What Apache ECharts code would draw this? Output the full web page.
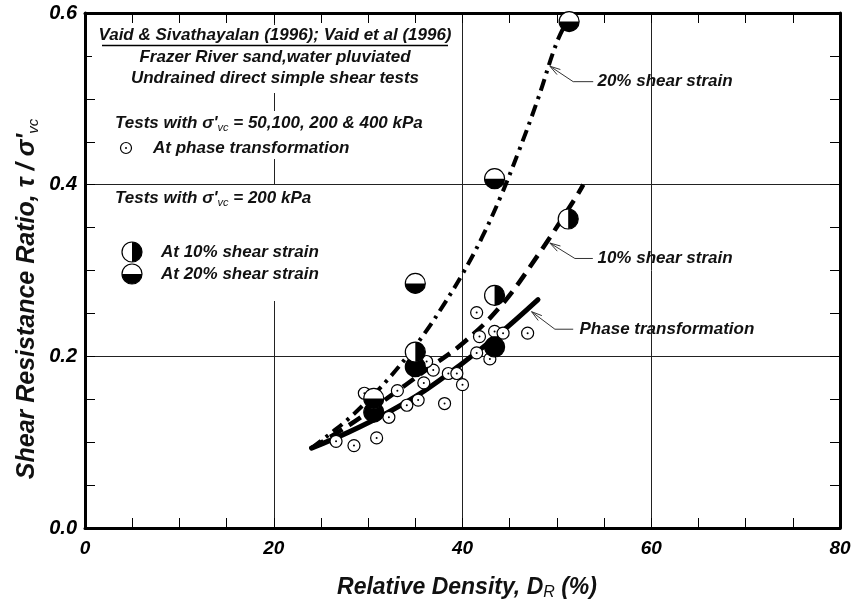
<!DOCTYPE html>
<html><head><meta charset="utf-8">
<script src="https://cdn.jsdelivr.net/npm/echarts@6/dist/echarts.min.js"></script>
<style>html,body{margin:0;padding:0;background:#fff}#c{width:854px;height:604px}</style>
</head><body><div id="c"></div>
<script>
// ---------- data ----------
const xTickLabels = ['0', '20', '40', '60', '80'];
const yTickLabels = ['0.0', '0.2', '0.4', '0.6'];

// Phase transformation, sigma'vc = 50,100,200 & 400 kPa  [DR %, tau/sigma'vc]
const phasePts = [
  [26.6, 0.101], [28.5, 0.096], [30.9, 0.105], [29.6, 0.157], [32.2, 0.129],
  [33.1, 0.160], [34.1, 0.143], [35.3, 0.149], [35.9, 0.169], [36.9, 0.184],
  [36.2, 0.194], [38.1, 0.145], [38.5, 0.180], [39.4, 0.180], [40.0, 0.167],
  [41.5, 0.204], [42.9, 0.197], [41.8, 0.223], [41.5, 0.251], [43.4, 0.229],
  [44.3, 0.227], [46.9, 0.227]
];
// sigma'vc = 200 kPa
const strain10Pts = [[35.0, 0.205], [43.4, 0.271], [51.2, 0.360]];
const strain20Pts = [[30.6, 0.151], [35.0, 0.285], [43.4, 0.407], [51.3, 0.590]];
const filledPts = [[30.6, 0.135], [35.0, 0.188], [43.4, 0.211]];

// fitted trend curves
const curvePhase = [[24, 0.093], [28, 0.112], [32, 0.134], [36, 0.160], [40, 0.192], [44, 0.227], [48, 0.266]];
const curve10 = [[24, 0.093], [28, 0.120], [32, 0.151], [36, 0.183], [40, 0.215], [44, 0.258], [48, 0.318], [52, 0.385], [52.8, 0.400]];
const curve20 = [[24, 0.093], [26, 0.110], [28, 0.128], [30, 0.149], [32, 0.172], [34, 0.198], [36, 0.227],
  [38, 0.260], [40, 0.296], [42, 0.337], [44, 0.385], [46, 0.440], [48, 0.500], [50, 0.566], [51.3, 0.595]];

// curve labels with leader lines (data coordinates)
const annotationText = ['20% shear strain', '10% shear strain', 'Phase transformation'];
const annotationPath = [
  [[49.26, 0.538], [51.73, 0.520], [53.85, 0.520]],
  [[49.26, 0.332], [51.91, 0.314], [53.81, 0.314]],
  [[47.32, 0.252], [49.79, 0.2316], [51.73, 0.2316]]
];
const annotationAnchor = [[54.3, 0.520], [54.3, 0.314], [52.4, 0.2316]];

// ---------- chart ----------
const FONT = '"Liberation Sans", Arial, Helvetica, sans-serif';
const chart = echarts.init(document.getElementById('c'), null, {renderer: 'canvas'});

function axisCommon(extra) {
  return Object.assign({
    axisLine: {show: true, onZero: false, lineStyle: {color: '#000', width: 3}},
    axisTick: {show: true, inside: true, length: 10, lineStyle: {color: '#000', width: 1}},
    minorTick: {show: true, splitNumber: 4, length: 10, lineStyle: {color: '#000', width: 1}},
    splitLine: {show: false}
  }, extra);
}
const labelStyle = {color: '#000', fontFamily: FONT, fontWeight: 'bold', fontStyle: 'italic'};

function markerShapes(kind, c, r, z) {
  const ch = [{type: 'circle', shape: {cx: c[0], cy: c[1], r: r}, style: {fill: '#fff', stroke: '#000', lineWidth: 1.2}}];
  if (kind === 'p10') {
    ch.push({type: 'sector', shape: {cx: c[0], cy: c[1], r0: 0, r: r, startAngle: -Math.PI / 2, endAngle: Math.PI / 2, clockwise: true}, style: {fill: '#000'}});
  } else if (kind === 'p20') {
    ch.push({type: 'sector', shape: {cx: c[0], cy: c[1], r0: 0, r: r, startAngle: 0, endAngle: Math.PI, clockwise: true}, style: {fill: '#000'}});
  } else if (kind === 'full') {
    ch[0].style.fill = '#000';
  } else if (kind === 'pt') {
    ch.push({type: 'circle', shape: {cx: c[0], cy: c[1], r: 1}, style: {fill: '#000'}});
  }
  if (z !== undefined) ch.forEach(function (e) { e.z = z; });
  return ch;
}
function markerSeries(name, pts, kind, r, z) {
  return {
    name: name, type: 'custom', coordinateSystem: 'cartesian2d', z: z,
    data: pts,
    renderItem: function (params, api) {
      const c = api.coord([api.value(0), api.value(1)]);
      return {type: 'group', children: markerShapes(kind, c, r)};
    }
  };
}

const txt = {fontFamily: FONT, fontWeight: 'bold', fontStyle: 'italic', fontSize: 17, fill: '#111'};
function richText(x, y, text, align) {
  return {
    type: 'text', x: x, y: y, z: 20,
    style: {
      text: text, align: align || 'left', verticalAlign: 'middle',
      textAlign: align || 'left', textVerticalAlign: 'middle',
      rich: {
        a: Object.assign({lineHeight: 20}, txt),
        s: {fontFamily: FONT, fontWeight: 'normal', fontStyle: 'italic', fontSize: 11, fill: '#111', lineHeight: 8, verticalAlign: 'bottom'}
      }
    }
  };
}
function whiteRect(x, y, w, h) {
  return {type: 'rect', z: 15, shape: {x: x, y: y, width: w, height: h}, style: {fill: '#fff'}};
}
function legendSym(kind, cx, cy, r) {
  return {type: 'group', z: 20, children: markerShapes(kind, [cx, cy], r, 20)};
}

const option = {
  animation: false,
  backgroundColor: '#fff',
  grid: {left: 85, right: 14, top: 13, bottom: 76, containLabel: false},
  xAxis: [
    axisCommon({
      type: 'value', min: 0, max: 80, interval: 20, position: 'bottom',
      axisLabel: Object.assign({margin: 11, fontSize: 19, formatter: function (v) { return xTickLabels[Math.round(v / 20)]; }}, labelStyle),
      splitLine: {show: true, lineStyle: {color: '#222', width: 1}}
    }),
    axisCommon({type: 'value', min: 0, max: 80, interval: 20, position: 'top', axisLabel: {show: false}})
  ],
  yAxis: [
    axisCommon({
      type: 'value', min: 0, max: 0.6, interval: 0.2, position: 'left',
      axisLabel: Object.assign({margin: 8, fontSize: 20, formatter: function (v) { return yTickLabels[Math.round(v / 0.2)]; }}, labelStyle),
      splitLine: {show: true, lineStyle: {color: '#222', width: 1}}
    }),
    axisCommon({type: 'value', min: 0, max: 0.6, interval: 0.2, position: 'right', axisLabel: {show: false}})
  ],
  series: [
    {name: 'Phase transformation', type: 'line', data: curvePhase, smooth: 0.4, showSymbol: false, z: 2,
      lineStyle: {color: '#000', width: 5, cap: 'round'}},
    {name: '10% shear strain', type: 'line', data: curve10, smooth: 0.4, showSymbol: false, z: 2,
      lineStyle: {color: '#000', width: 4.5, type: [14, 8]}},
    {name: '20% shear strain', type: 'line', data: curve20, smooth: 0.4, showSymbol: false, z: 2,
      lineStyle: {color: '#000', width: 4, type: [12, 6, 3, 6]}},
    markerSeries('At phase transformation', phasePts, 'pt', 6, 3),
    markerSeries('Filled', filledPts, 'full', 10, 4),
    markerSeries('At 20% shear strain', strain20Pts, 'p20', 10, 5),
    markerSeries('At 10% shear strain', strain10Pts, 'p10', 10, 5),
    {
      name: 'labels', type: 'custom', coordinateSystem: 'cartesian2d', z: 6,
      data: annotationAnchor,
      renderItem: function (params, api) {
        const i = params.dataIndex;
        const pts = annotationPath[i].map(function (p) { return api.coord(p); });
        const tip = pts[0], nxt = pts[1];
        const dx = nxt[0] - tip[0], dy = nxt[1] - tip[1];
        const L = Math.hypot(dx, dy), ux = dx / L, uy = dy / L;
        const len = 11;
        function rot(a) { return [ux * Math.cos(a) - uy * Math.sin(a), ux * Math.sin(a) + uy * Math.cos(a)]; }
        const r1 = rot(0.28), r2 = rot(-0.28);
        const anc = api.coord([api.value(0), api.value(1)]);
        return {type: 'group', children: [
          {type: 'polyline', shape: {points: pts}, style: {stroke: '#333', lineWidth: 1, fill: null}},
          {type: 'polyline', shape: {points: [[tip[0] + r1[0] * len, tip[1] + r1[1] * len], tip, [tip[0] + r2[0] * len, tip[1] + r2[1] * len]]},
            style: {stroke: '#333', lineWidth: 1, fill: null}},
          {type: 'text', x: anc[0], y: anc[1], style: Object.assign({text: annotationText[i], align: 'left', verticalAlign: 'middle'}, txt)}
        ]};
      }
    }
  ],
  graphic: [
    whiteRect(92, 25, 368, 68),
    whiteRect(102, 111, 350, 48),
    whiteRect(102, 185, 263, 116),
    richText(275, 35, '{a|Vaid & Sivathayalan (1996); Vaid et al (1996)}', 'center'),
    {type: 'line', z: 20, shape: {x1: 102, y1: 45.5, x2: 448, y2: 45.5}, style: {stroke: '#000', lineWidth: 1.5}},
    richText(275, 57, '{a|Frazer River sand,water pluviated}', 'center'),
    richText(275, 78, '{a|Undrained direct simple shear tests}', 'center'),
    richText(115, 123, "{a|Tests with σ'}{s|vc}{a| = 50,100, 200 & 400 kPa}"),
    legendSym('pt', 126, 148, 5.5),
    richText(153, 148, '{a|At phase transformation}'),
    richText(115, 198, "{a|Tests with σ'}{s|vc}{a| = 200 kPa}"),
    legendSym('p10', 132, 252, 10),
    richText(161, 252, '{a|At 10% shear strain}'),
    legendSym('p20', 132, 274, 10),
    richText(161, 274, '{a|At 20% shear strain}'),
    {
      type: 'text', x: 27, y: 299, rotation: Math.PI / 2, z: 20,
      style: {
        text: "{a|Shear Resistance Ratio, τ / σ'}{s|vc}",
        align: 'center', verticalAlign: 'middle', textAlign: 'center', textVerticalAlign: 'middle',
        rich: {
          a: {fontFamily: FONT, fontWeight: 'bold', fontStyle: 'italic', fontSize: 25, fill: '#111', lineHeight: 28},
          s: {fontFamily: FONT, fontWeight: 'normal', fontStyle: 'italic', fontSize: 15, fill: '#111', lineHeight: 12, verticalAlign: 'bottom'}
        }
      }
    },
    {
      type: 'text', x: 467, y: 588, z: 20,
      style: {
        text: '{a|Relative Density, D}{s|R}{a| (%)}',
        align: 'center', verticalAlign: 'middle', textAlign: 'center', textVerticalAlign: 'middle',
        rich: {
          a: {fontFamily: FONT, fontWeight: 'bold', fontStyle: 'italic', fontSize: 23, fill: '#111', lineHeight: 26},
          s: {fontFamily: FONT, fontWeight: 'normal', fontStyle: 'italic', fontSize: 16, fill: '#111', lineHeight: 12, verticalAlign: 'bottom'}
        }
      }
    }
  ]
};
chart.setOption(option);
</script>
</body></html>
